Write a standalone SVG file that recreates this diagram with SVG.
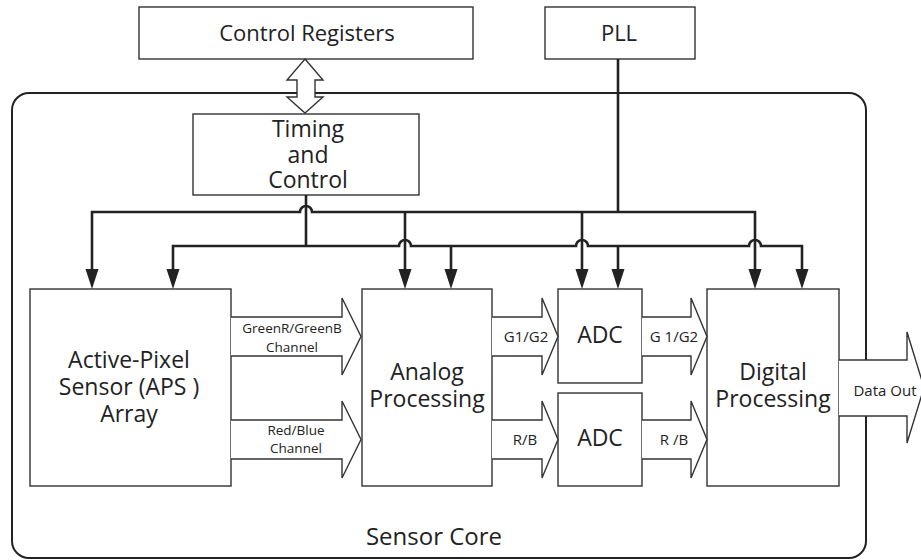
<svg xmlns="http://www.w3.org/2000/svg" xmlns:xlink="http://www.w3.org/1999/xlink" width="921" height="560" viewBox="0 0 921 560">
<style>
.box{fill:#fff;stroke:#333;stroke-width:1.4}
.core{fill:none;stroke:#222;stroke-width:2}
.bus{fill:none;stroke:#222;stroke-width:2.6}
.blk{fill:#fff;stroke:#333;stroke-width:1.4;stroke-linejoin:miter}
.ah{fill:#222}
text{font-family:"Open Sans","Noto Sans","Liberation Sans",sans-serif;fill:#222;text-anchor:middle}
.big{font-size:22px}
.mid{font-size:23px}
.sm{font-size:13.5px}
.lab{font-size:15px}
</style>
<defs>
<path id="ah" class="ah" d="M-6.5,-20 L6.5,-20 L0,0 Z"/>
</defs>
<rect width="921" height="560" fill="#fff"/>

<g id="sensor-core">
<rect class="core" x="12" y="93" width="854" height="465" rx="17"/>
<text x="434" y="545" style="font-size:24px">Sensor Core</text>
</g>

<g id="control-registers">
<rect class="box" x="139" y="7" width="334" height="52"/>
<text class="big" x="307" y="41">Control Registers</text>
</g>

<g id="pll">
<rect class="box" x="545" y="7" width="150" height="52"/>
<text class="big" x="619" y="41">PLL</text>
</g>

<g id="timing-control">
<rect class="box" x="193" y="114" width="226" height="81"/>
<text class="mid" x="308" y="137">Timing</text>
<text class="mid" x="308" y="162.5">and</text>
<text class="mid" x="308" y="188">Control</text>
</g>

<g id="aps-array">
<rect class="box" x="30" y="289" width="201" height="197"/>
<text class="mid" x="129" y="368">Active-Pixel</text>
<text class="mid" x="129" y="395">Sensor (APS )</text>
<text class="mid" x="129" y="422">Array</text>
</g>

<g id="analog-processing">
<rect class="box" x="362" y="289" width="130" height="197"/>
<text class="mid" x="427" y="380">Analog</text>
<text class="mid" x="427" y="407">Processing</text>
</g>

<g id="adc-top">
<rect class="box" x="558" y="289" width="84" height="94"/>
<text class="mid" x="600" y="343">ADC</text>
</g>

<g id="adc-bottom">
<rect class="box" x="558" y="393" width="84" height="93"/>
<text class="mid" x="600" y="446">ADC</text>
</g>

<g id="digital-processing">
<rect class="box" x="707" y="289" width="132" height="197"/>
<text class="mid" x="773" y="380">Digital</text>
<text class="mid" x="773" y="407">Processing</text>
</g>

<g id="connectors">
<!-- bidirectional arrow -->
<polygon class="blk" points="305,59 323,80 315,80 315,97 323,97 305,113 287,97 297,97 297,80 287,80"/>
<!-- PLL bus -->
<path class="bus" d="M618,59 V212"/>
<path class="bus" d="M92,270 V212 H300 A6,6 0 0 1 312,212 H755 V270"/>
<path class="bus" d="M405,212 V270 M582,212 V270"/>
<!-- Timing bus -->
<path class="bus" d="M306,195 V246"/>
<path class="bus" d="M173,270 V246 H399 A6,6 0 0 1 411,246 H576 A6,6 0 0 1 588,246 H749 A6,6 0 0 1 761,246 H802 V270"/>
<path class="bus" d="M451,246 V270 M618,246 V270"/>
<!-- arrowheads -->
<use xlink:href="#ah" transform="translate(92,289)"/>
<use xlink:href="#ah" transform="translate(173,289)"/>
<use xlink:href="#ah" transform="translate(405,289)"/>
<use xlink:href="#ah" transform="translate(451,289)"/>
<use xlink:href="#ah" transform="translate(582,289)"/>
<use xlink:href="#ah" transform="translate(618,289)"/>
<use xlink:href="#ah" transform="translate(755,289)"/>
<use xlink:href="#ah" transform="translate(802,289)"/>

<!-- block arrows -->
<path class="blk" d="M231,317 H342 V298 L361,336.5 L342,375 V356 H231"/>
<path class="blk" d="M231,420 H342 V401 L361,439.5 L342,478 V459 H231"/>
<path class="blk" d="M492,317 H542 V298 L558,336.5 L542,375 V356 H492"/>
<path class="blk" d="M492,420 H542 V401 L558,439.5 L542,478 V459 H492"/>
<path class="blk" d="M642,317 H691 V298 L707,336.5 L691,375 V356 H642"/>
<path class="blk" d="M642,420 H691 V401 L707,439.5 L691,478 V459 H642"/>
<path class="blk" d="M839,360 H907 V332 L924,387.5 L907,443 V416 H839"/>

<text class="sm" x="292" y="333">GreenR/GreenB</text>
<text class="sm" x="292" y="352">Channel</text>
<text class="sm" x="296" y="435">Red/Blue</text>
<text class="sm" x="296" y="453">Channel</text>
<text class="lab" x="526" y="342">G1/G2</text>
<text class="lab" x="525" y="445">R/B</text>
<text class="lab" x="674" y="342">G 1/G2</text>
<text class="lab" x="674" y="445">R /B</text>
<text class="lab" x="885" y="396">Data Out</text>
</g>
</svg>
